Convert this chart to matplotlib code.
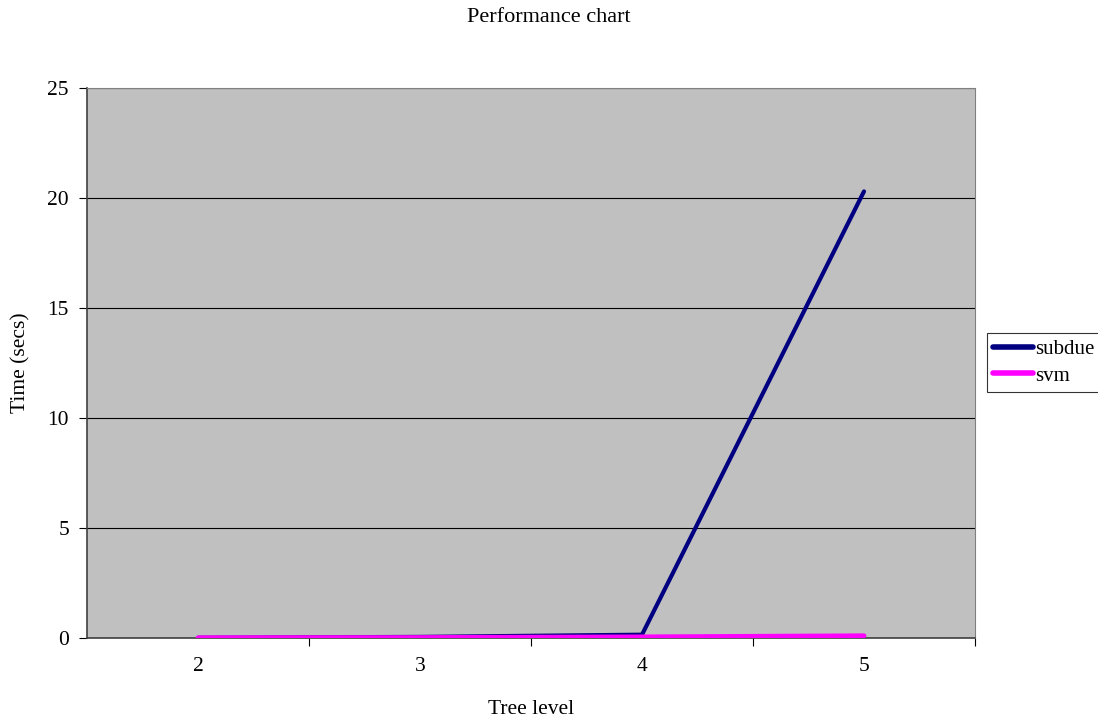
import matplotlib
matplotlib.use("Agg")
import matplotlib.pyplot as plt
from matplotlib.ticker import FixedLocator, NullFormatter

plt.rcParams['font.family'] = ['Liberation Serif', 'DejaVu Serif']

levels = ["2", "3", "4", "5"]
subdue = [0.01, 0.05, 0.15, 20.3]
svm = [0.01, 0.02, 0.05, 0.1]

fig = plt.figure(figsize=(10.98, 7.24), dpi=100)
ax = fig.add_axes([87 / 1098, 1 - 638 / 724, 888 / 1098, 550 / 724])
ax.set_facecolor('#c0c0c0')

x = list(range(1, len(levels) + 1))
ax.plot(x, subdue, color='#000080', lw=3, solid_capstyle='round', label='subdue', zorder=3)
ax.plot(x, svm, color='#ff00ff', lw=3.5, solid_capstyle='round', label='svm', zorder=4)

ax.set_xlim(0.5, len(levels) + 0.5)
ax.set_ylim(0, 25)
ax.set_yticks([0, 5, 10, 15, 20, 25])
ax.yaxis.grid(True, color='black', lw=0.8)
ax.set_axisbelow(True)

# category labels centred, tick marks on the category boundaries
ax.set_xticks(x)
ax.set_xticklabels(levels)
ax.tick_params(axis='x', which='major', length=0, pad=14, labelsize=15.5)
ax.xaxis.set_minor_locator(FixedLocator([1.5, 2.5, 3.5, 4.5]))
ax.xaxis.set_minor_formatter(NullFormatter())
ax.tick_params(axis='x', which='minor', length=6, width=0.8, direction='out')
ax.tick_params(axis='y', length=6, width=0.8, direction='out', labelsize=15.5, pad=7)

for s in ['left', 'bottom']:
    ax.spines[s].set_color('#404040')
    ax.spines[s].set_linewidth(1.2)
ax.spines['top'].set_color('#808080')
ax.spines['right'].set_color('#808080')
ax.spines['top'].set_linewidth(0.8)
ax.spines['right'].set_linewidth(0.8)

fig.text(531 / 1098, 1 - 709 / 724, 'Tree level', ha='center', va='center', fontsize=15.5)
fig.text(21 / 1098, 1 - 363 / 724, 'Time (secs)', ha='center', va='center',
         rotation=90, fontsize=15.5)
fig.text(0.5, 1 - 17 / 724, 'Performance chart', ha='center', va='center', fontsize=16)

leg = ax.legend(loc='upper left', bbox_to_anchor=(987 / 1098, 1 - 333 / 724),
                bbox_transform=fig.transFigure, frameon=True, fancybox=False,
                fontsize=15, handlelength=1.9, handletextpad=0.1,
                borderpad=0.3, labelspacing=0.35, borderaxespad=0)
leg.get_frame().set_edgecolor('black')
leg.get_frame().set_linewidth(0.8)
for h in leg.get_lines():
    h.set_linewidth(4)

fig.savefig('out.png', dpi=100)
